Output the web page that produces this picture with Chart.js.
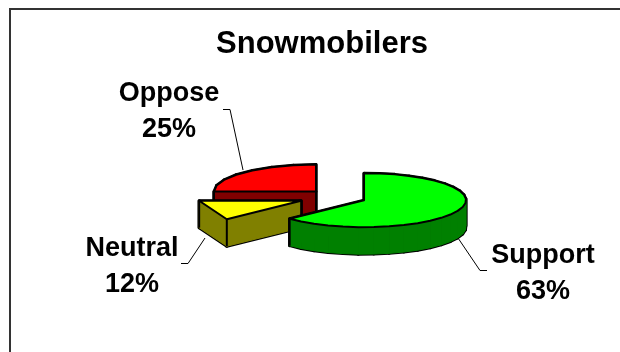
<!DOCTYPE html>
<html>
<head>
<meta charset="utf-8">
<script src="https://cdn.jsdelivr.net/npm/chart.js@4"></script>
<style>
    html, body { margin: 0; padding: 0; background: #fff; }
    #wrap { width: 620px; height: 352px; position: relative; overflow: hidden; }
</style>
</head>
<body>
<div id="wrap"><canvas id="pieChart" width="620" height="352"></canvas></div>
<script>
const categories = ['Support', 'Neutral', 'Oppose'];
const shares = [63, 12, 25];
const topColors = ['#00ff00', '#ffff00', '#ff0000'];
const sideColors = ['#008000', '#808000', '#800000'];
const titleText = 'Snowmobilers';

// how the pie sits on the page
const pieCenter = { x: 336.5, y: 197 };
const pieRadius = 102;
const squash = 0.265;
const depth = 27;
const explode = [30, 38, 29];
// the original rim is a coarse polygon, the small slice is one straight chord
const rimSegments = [26, 1, 7];

// label text centre and leader line for each slice
const labelPlace = [
    { x: 543, y: 256, line: [[458, 238], [480, 270.5], [487, 270.5]] },
    { x: 132, y: 249, line: [[205, 238], [188, 263.5], [181, 263.5]] },
    { x: 169, y: 94, line: [[243, 170], [230, 109.5], [223, 109.5]] }
];

function slicePoints(arc, i) {
    const mid = (arc.startAngle + arc.endAngle) / 2;
    const cx = pieCenter.x + Math.cos(mid) * explode[i];
    const cy = pieCenter.y + Math.sin(mid) * explode[i] * squash;
    const pts = [];
    const steps = rimSegments[i];
    for (let s = 0; s <= steps; s++) {
        const a = arc.startAngle + (arc.endAngle - arc.startAngle) * s / steps;
        pts.push([cx + Math.cos(a) * arc.outerRadius, cy + Math.sin(a) * arc.outerRadius * squash]);
    }
    return { cx, cy, pts };
}

function tracePoly(ctx, pts) {
    ctx.beginPath();
    pts.forEach((p, k) => k ? ctx.lineTo(p[0], p[1]) : ctx.moveTo(p[0], p[1]));
    ctx.closePath();
}

const pie3d = {
    id: 'pie3d',
    beforeDatasetDraw(chart) {
        const ctx = chart.ctx;
        const arcs = chart.getDatasetMeta(0).data;
        // back slice first, the library's order does not suit a tilted pie
        [2, 1, 0].forEach(i => {
            const arc = arcs[i];
            const { cx, cy, pts } = slicePoints(arc, i);
            const outline = [[cx, cy]].concat(pts);
            const quads = outline.map((p, k) => {
                const q = outline[(k + 1) % outline.length];
                return [p, q, [q[0], q[1] + depth], [p[0], p[1] + depth]];
            });

            ctx.save();
            ctx.lineJoin = 'round';
            // walls: stroke everything, then fill over it so only the silhouette stays black
            ctx.strokeStyle = '#000';
            ctx.lineWidth = 3;
            quads.forEach(q => { tracePoly(ctx, q); ctx.stroke(); });
            ctx.fillStyle = sideColors[i];
            ctx.strokeStyle = sideColors[i];
            ctx.lineWidth = 1;
            quads.forEach(q => { tracePoly(ctx, q); ctx.fill(); ctx.stroke(); });

            // upright edges at the corners
            ctx.strokeStyle = '#000';
            ctx.lineWidth = 2;
            [outline[0], outline[1], outline[outline.length - 1]].forEach(p => {
                ctx.beginPath();
                ctx.moveTo(p[0], p[1]);
                ctx.lineTo(p[0], p[1] + depth);
                ctx.stroke();
            });
            ctx.restore();

            // top face is the library's own arc, tilted, moved out and cut to the rim polygon
            ctx.save();
            tracePoly(ctx, outline);
            ctx.clip();
            ctx.translate(cx, cy);
            ctx.scale(1, squash);
            ctx.translate(-arc.x, -arc.y);
            arc.draw(ctx);
            ctx.restore();

            ctx.save();
            ctx.strokeStyle = '#000';
            ctx.lineWidth = 2;
            ctx.lineJoin = 'round';
            tracePoly(ctx, outline);
            ctx.stroke();
            ctx.restore();
        });
        return false;
    },
    afterDraw(chart) {
        const ctx = chart.ctx;
        ctx.save();
        // frame, only top and left fall inside the picture
        ctx.strokeStyle = '#333';
        ctx.lineWidth = 2;
        ctx.beginPath();
        ctx.moveTo(620, 9);
        ctx.lineTo(10, 9);
        ctx.lineTo(10, 352);
        ctx.stroke();
        // leader lines
        ctx.strokeStyle = '#000';
        ctx.lineWidth = 1;
        labelPlace.forEach(l => {
            ctx.beginPath();
            l.line.forEach((p, k) => k ? ctx.lineTo(p[0], p[1]) : ctx.moveTo(p[0], p[1]));
            ctx.stroke();
        });
        // labels
        ctx.fillStyle = '#000';
        ctx.font = 'bold 27px "Liberation Sans", Arial, sans-serif';
        ctx.textAlign = 'center';
        ctx.textBaseline = 'middle';
        categories.forEach((c, i) => {
            ctx.fillText(c, labelPlace[i].x, labelPlace[i].y);
            ctx.fillText(shares[i] + '%', labelPlace[i].x, labelPlace[i].y + 36);
        });
        ctx.restore();
    }
};

new Chart(document.getElementById('pieChart'), {
    type: 'pie',
    data: {
        labels: categories,
        datasets: [{
            data: shares,
            backgroundColor: topColors,
            borderWidth: 0,
            radius: pieRadius
        }]
    },
    options: {
        responsive: false,
        animation: false,
        layout: { padding: { left: 24, right: 0, top: 0, bottom: 0 } },
        plugins: {
            legend: { display: false },
            tooltip: { enabled: false },
            title: {
                display: true,
                text: titleText,
                color: '#000',
                font: { family: '"Liberation Sans", Arial, sans-serif', size: 31, weight: 'bold' },
                padding: { top: 26, bottom: 10 }
            }
        }
    },
    plugins: [pie3d]
});
</script>
</body>
</html>
